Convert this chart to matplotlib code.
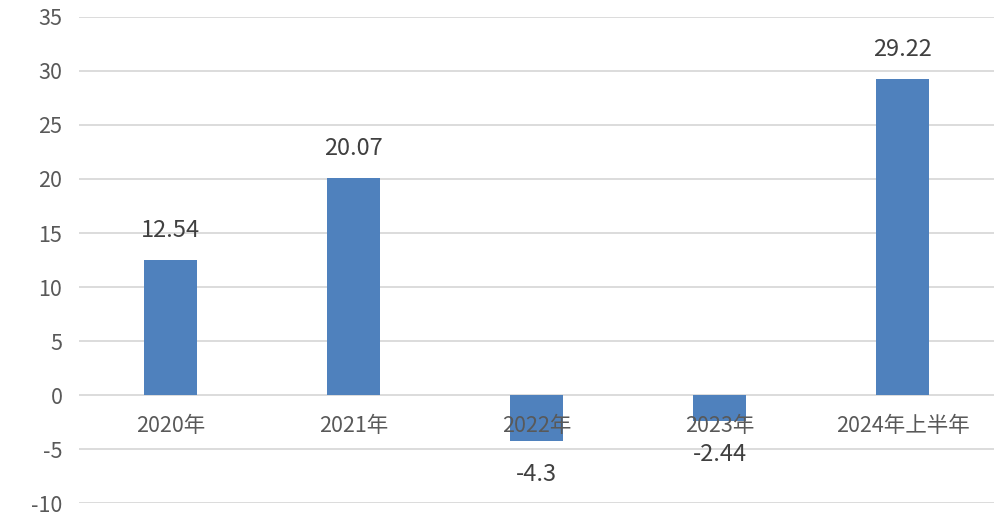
import matplotlib.pyplot as plt

plt.rcParams['font.family'] = ['Noto Sans CJK SC', 'DejaVu Sans']

# data
categories = ['2020年', '2021年', '2022年', '2023年', '2024年上半年']
values = [12.54, 20.07, -4.3, -2.44, 29.22]
labels = ['12.54', '20.07', '-4.3', '-2.44', '29.22']
yticks = [-10, -5, 0, 5, 10, 15, 20, 25, 30, 35]

fig = plt.figure(figsize=(9.99, 5.24), dpi=100)
ax = fig.add_axes([0.079, 0.040, 0.916, 0.9276])

x = range(len(categories))
ax.bar(x, values, width=0.29, color='#4F81BD', zorder=3)

ax.set_ylim(-10, 35)
ax.set_xlim(-0.5, len(categories) - 0.5)
ax.set_yticks(yticks)
ax.set_yticklabels([str(t) for t in yticks])
ax.set_xticks([])
ax.grid(axis='y', color='#D9D9D9', linewidth=1.3, zorder=0)
for s in ax.spines.values():
    s.set_visible(False)
ax.tick_params(axis='y', length=0, pad=12, labelsize=15.5, labelcolor='#595959')

# category labels just below the zero line
for i, c in enumerate(categories):
    ax.annotate(c, (i, 0), xytext=(0, -31), textcoords='offset pixels',
                ha='center', va='center', fontsize=15.5, color='#595959', zorder=4)

# value labels
for i, (v, lab) in enumerate(zip(values, labels)):
    if v >= 0:
        ax.annotate(lab, (i, v), xytext=(0, 18), textcoords='offset pixels',
                    ha='center', va='bottom', fontsize=17, color='#404040')
    else:
        ax.annotate(lab, (i, v), xytext=(0, -22), textcoords='offset pixels',
                    ha='center', va='top', fontsize=17, color='#404040')

fig.savefig('out.png', dpi=100)
